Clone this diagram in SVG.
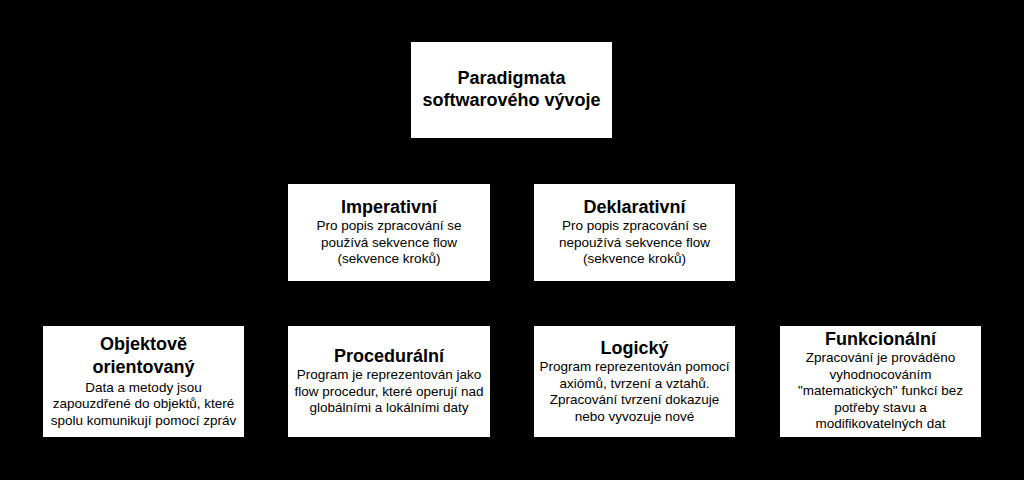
<svg xmlns="http://www.w3.org/2000/svg" width="1024" height="480" viewBox="0 0 1024 480">
  <defs>
    <marker id="arrow" viewBox="0 0 10 10" refX="10" refY="5" markerWidth="7" markerHeight="7" orient="auto">
      <path d="M0,0 L10,5 L0,10 Z" fill="#000000"/>
    </marker>
    <style>
      .box { fill: #ffffff; stroke: #000000; stroke-width: 1; }
      .title { font-family: "Liberation Sans", Arial, sans-serif; font-size: 18px; font-weight: bold; fill: #000000; text-anchor: middle; }
      .body { font-family: "Liberation Sans", Arial, sans-serif; font-size: 13.5px; fill: #000000; text-anchor: middle; }
      .edge { fill: none; stroke: #000000; stroke-width: 1; marker-end: url(#arrow); }
    </style>
  </defs>
  <rect x="0" y="0" width="1024" height="480" fill="#000000"/>

  <g id="connectors">
    <path class="edge" d="M511.5,139 V161 H389 V183"/>
    <path class="edge" d="M511.5,139 V161 H634.5 V183"/>
    <path class="edge" d="M389,282 V303.5 H143 V325"/>
    <path class="edge" d="M389,282 V325"/>
    <path class="edge" d="M634.5,282 V325"/>
    <path class="edge" d="M634.5,282 V303.5 H880.5 V325"/>
  </g>

  <g id="node-paradigmata">
    <rect class="box" x="410.5" y="41.5" width="202" height="97"/>
    <text class="title" x="511.5" y="84">Paradigmata</text>
    <text class="title" x="511.5" y="106">softwarového vývoje</text>
  </g>

  <g id="node-imperativni">
    <rect class="box" x="287.5" y="183.5" width="203" height="98"/>
    <text class="title" x="389" y="213">Imperativní</text>
    <text class="body" x="389" y="230">Pro popis zpracování se</text>
    <text class="body" x="389" y="246.5">používá sekvence flow</text>
    <text class="body" x="389" y="263">(sekvence kroků)</text>
  </g>

  <g id="node-deklarativni">
    <rect class="box" x="533.5" y="183.5" width="202" height="98"/>
    <text class="title" x="634.5" y="213">Deklarativní</text>
    <text class="body" x="634.5" y="230">Pro popis zpracování se</text>
    <text class="body" x="634.5" y="246.5">nepoužívá sekvence flow</text>
    <text class="body" x="634.5" y="263">(sekvence kroků)</text>
  </g>

  <g id="node-objektove">
    <rect class="box" x="42.5" y="325.5" width="202" height="112"/>
    <text class="title" x="143.5" y="350">Objektově</text>
    <text class="title" x="143.5" y="372.5">orientovaný</text>
    <text class="body" x="143.5" y="391.5">Data a metody jsou</text>
    <text class="body" x="143.5" y="408">zapouzdřené do objektů, které</text>
    <text class="body" x="143.5" y="424.5">spolu komunikují pomocí zpráv</text>
  </g>

  <g id="node-proceduralni">
    <rect class="box" x="287.5" y="325.5" width="203" height="112"/>
    <text class="title" x="389" y="361.5">Procedurální</text>
    <text class="body" x="389" y="379">Program je reprezentován jako</text>
    <text class="body" x="389" y="395.5">flow procedur, které operují nad</text>
    <text class="body" x="389" y="412">globálními a lokálními daty</text>
  </g>

  <g id="node-logicky">
    <rect class="box" x="533.5" y="325.5" width="202" height="112"/>
    <text class="title" x="634.5" y="353.5">Logický</text>
    <text class="body" x="634.5" y="371">Program reprezentován pomocí</text>
    <text class="body" x="634.5" y="387.5">axiómů, tvrzení a vztahů.</text>
    <text class="body" x="634.5" y="404">Zpracování tvrzení dokazuje</text>
    <text class="body" x="634.5" y="420.5">nebo vyvozuje nové</text>
  </g>

  <g id="node-funkcionalni">
    <rect class="box" x="779.5" y="325.5" width="202" height="112"/>
    <text class="title" x="880.5" y="344.5">Funkcionální</text>
    <text class="body" x="880.5" y="362">Zpracování je prováděno</text>
    <text class="body" x="880.5" y="378.5">vyhodnocováním</text>
    <text class="body" x="880.5" y="395">"matematických" funkcí bez</text>
    <text class="body" x="880.5" y="411.5">potřeby stavu a</text>
    <text class="body" x="880.5" y="428">modifikovatelných dat</text>
  </g>
</svg>
